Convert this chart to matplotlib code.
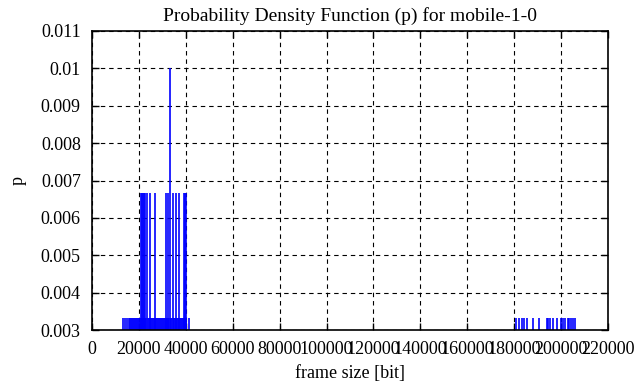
import matplotlib
matplotlib.use('Agg')
import matplotlib.pyplot as plt

# frame sizes [bit] and their probability (k/300 frames)
sizes_low = [13300, 14050, 15100, 15600, 16100, 16500, 17000, 17400, 17900, 18300,
             18800, 19200, 19700, 20100, 20500, 21000, 21400, 21900, 22300, 22800,
             23200, 23700, 24100, 24600, 25000, 25500, 25900, 26300, 26800, 27200,
             27700, 28100, 28600, 29000, 29500, 29900, 30300, 30800, 31200, 31700,
             32100, 32600, 33000, 33500, 33900, 34400, 34800, 35200, 35700, 36100,
             36600, 37000, 37500, 37900, 38400, 38800, 39300, 39700, 40100, 41200,
             180600, 182000, 183200, 184300, 185500, 188000, 190700, 193800, 194400,
             195300, 196600, 198100, 199900, 201000, 201700, 202800, 203400, 204200,
             205100, 206000]
sizes_mid = [20850, 21300, 21700, 22100, 22550, 23400, 24800, 26700, 31400, 32470,
             34600, 36000, 37150, 39150, 39600, 40000]
sizes_peak = [33400]

p_low = 1 / 300
p_mid = 2 / 300
p_peak = 3 / 300

xticks = list(range(0, 220001, 20000))
yticks = [0.003, 0.004, 0.005, 0.006, 0.007, 0.008, 0.009, 0.01, 0.011]
ytick_labels = ['0.003', '0.004', '0.005', '0.006', '0.007', '0.008', '0.009', '0.01', '0.011']

plt.rcParams['font.family'] = ['Liberation Serif', 'DejaVu Serif']
plt.rcParams['font.size'] = 13

fig = plt.figure(figsize=(6.41, 3.87), dpi=100)
ax = fig.add_axes([0.1435, 0.147, 0.805, 0.773])

blue = '#0000ff'
ax.vlines(sizes_low, 0.003, p_low, color=blue, lw=1.2)
ax.vlines(sizes_mid, 0.003, p_mid, color=blue, lw=1.2)
ax.vlines(sizes_peak, 0.003, p_peak, color=blue, lw=1.2)

ax.set_xlim(0, 220000)
ax.set_ylim(0.003, 0.011)
ax.set_xticks(xticks)
ax.set_xticklabels([str(t) for t in xticks])
ax.set_yticks(yticks)
ax.set_yticklabels(ytick_labels)

ax.grid(True, color='black', linestyle=(0, (4, 3.5)), lw=0.8)
ax.tick_params(direction='in', length=5, width=1, top=True, right=True)
ax.tick_params(axis='x', pad=8)
ax.tick_params(axis='y', pad=8)
for s in ax.spines.values():
    s.set_linewidth(1.2)

ax.set_title('Probability Density Function (p) for mobile-1-0', fontsize=14, pad=7)
ax.set_xlabel('frame size [bit]', labelpad=5)
ax.set_ylabel('p', labelpad=10)

fig.savefig('out.png', dpi=100)
plt.close(fig)
